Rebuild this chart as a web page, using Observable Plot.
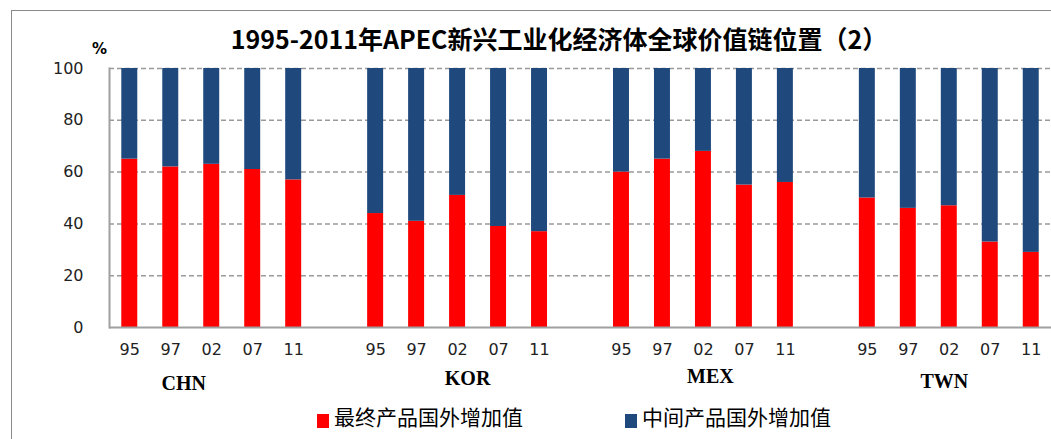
<!DOCTYPE html>
<html>
<head>
<meta charset="utf-8">
<script src="https://cdn.jsdelivr.net/npm/d3@7"></script>
<script src="https://cdn.jsdelivr.net/npm/@observablehq/plot@0.6"></script>
<style>
  html, body { margin: 0; padding: 0; background: #fff; overflow: hidden; }
  #page { position: relative; width: 1051px; height: 439px; overflow: hidden; background: #fff; }
  #frame { position: absolute; left: 11px; top: 10px; width: 2000px; height: 2000px;
           border-left: 1px solid #8a8a8a; border-top: 1px solid #8a8a8a; }
  #title { position: absolute; top: 22px; left: 559px; transform: translateX(-50%); white-space: nowrap;
           font-family: "Noto Sans CJK SC", sans-serif; font-weight: bold; font-size: 25px; color: #000; line-height: 32px; }
  #unit { position: absolute; left: 92px; top: 40px; font-family: "DejaVu Sans", sans-serif; font-weight: bold;
          font-size: 15px; color: #000; }
  #chart { position: absolute; left: 0; top: 48px; width: 1100px; height: 360px; }
  #chart svg { max-width: none !important; }
  #legend { position: absolute; top: 403px; left: 317px; display: flex; white-space: nowrap;
            font-family: "Noto Sans CJK SC", sans-serif; font-size: 21px; color: #000; line-height: 26px; }
  .item { display: flex; align-items: flex-end; }
  .sw { width: 12px; height: 14px; margin-right: 5px; margin-bottom: 1px; }
</style>
</head>
<body>
<div id="page">
  <div id="frame"></div>
  <div id="title"></div>
  <div id="unit">%</div>
  <div id="chart"></div>
  <div id="legend"></div>
</div>
<script>
const titleText = "1995-2011年APEC新兴工业化经济体全球价值链位置（2）";
const unitText = "%";
const countries = ["CHN", "KOR", "MEX", "TWN"];
const years = ["95", "97", "02", "07", "11"];
const seriesNames = ["最终产品国外增加值", "中间产品国外增加值"];
const seriesColors = ["#FF0000", "#1F497D"];
const yTicks = [0, 20, 40, 60, 80, 100];

// 最终产品国外增加值 (final goods foreign value added), %
const finalCHN = [65, 62, 63, 61, 57];
const finalKOR = [44, 41, 51, 39, 37];
const finalMEX = [60, 65, 68, 55, 56];
const finalTWN = [50, 46, 47, 33, 29];
// 中间产品国外增加值 (intermediate goods foreign value added), %
const interCHN = [35, 38, 37, 39, 43];
const interKOR = [56, 59, 49, 61, 63];
const interMEX = [40, 35, 32, 45, 44];
const interTWN = [50, 54, 53, 67, 71];

const finalBy = {CHN: finalCHN, KOR: finalKOR, MEX: finalMEX, TWN: finalTWN};
const interBy = {CHN: interCHN, KOR: interKOR, MEX: interMEX, TWN: interTWN};

const keyOf = (c, y) => c + "|" + y;
const domain = [];
for (const c of countries) { for (const y of years) domain.push(keyOf(c, y)); domain.push(c + "|gap"); }

const rows = [];
for (const c of countries) {
  years.forEach((y, i) => {
    rows.push({key: keyOf(c, y), country: c, year: y, series: seriesNames[0], value: finalBy[c][i]});
    rows.push({key: keyOf(c, y), country: c, year: y, series: seriesNames[1], value: interBy[c][i]});
  });
}
const yearRows = rows.filter(r => r.series === seriesNames[0]);

// hand-placed group labels in the original
const labelShift = {CHN: [-28, 62], KOR: [10, 57], MEX: [7, 55], TWN: [-5, 60]};

document.getElementById("title").textContent = titleText;
document.getElementById("unit").textContent = unitText;

const chart = Plot.plot({
  width: 1100,
  height: 360,
  marginLeft: 109,
  marginRight: 8,
  marginTop: 20,
  marginBottom: 81,
  style: {fontFamily: "DejaVu Sans, sans-serif", fontSize: "16px", color: "#222", overflow: "visible", background: "transparent", maxWidth: "none"},
  x: {type: "band", domain, paddingInner: 0.61, paddingOuter: 0.3, round: false, axis: null},
  y: {domain: [0, 100], axis: null},
  color: {domain: seriesNames, range: seriesColors},
  marks: [
    Plot.ruleY(yTicks.filter(d => d > 0), {stroke: "#9a9a9a", strokeWidth: 1.5, strokeDasharray: "5,3"}),
    Plot.barY(rows, {x: "key", y: "value", fill: "series", order: seriesNames}),
    Plot.ruleY([0], {stroke: "#a0a0a0", strokeWidth: 2}),
    Plot.frame({anchor: "left", stroke: "#a0a0a0", strokeWidth: 2}),
    Plot.axisY({ticks: yTicks, tickSize: 0, tickPadding: 26, fontSize: 16, label: null, fill: "#222"}),
    Plot.text(yearRows, {x: "key", text: "year", frameAnchor: "bottom", dy: 27, fontSize: 16, fill: "#222"}),
    ...countries.map(c => Plot.text([c], {x: () => keyOf(c, "02"), text: d => d, frameAnchor: "bottom",
      dx: labelShift[c][0], dy: labelShift[c][1], fontFamily: "Liberation Serif, serif", fontWeight: "bold", fontSize: 20, fill: "#000"}))
  ]
});
document.getElementById("chart").appendChild(chart);

const legend = document.getElementById("legend");
seriesNames.forEach((name, i) => {
  const item = document.createElement("div");
  item.className = "item";
  if (i > 0) item.style.marginLeft = "102px";
  const sw = document.createElement("span");
  sw.className = "sw";
  sw.style.background = seriesColors[i];
  const t = document.createElement("span");
  t.textContent = name;
  item.appendChild(sw); item.appendChild(t);
  legend.appendChild(item);
});
</script>
</body>
</html>
